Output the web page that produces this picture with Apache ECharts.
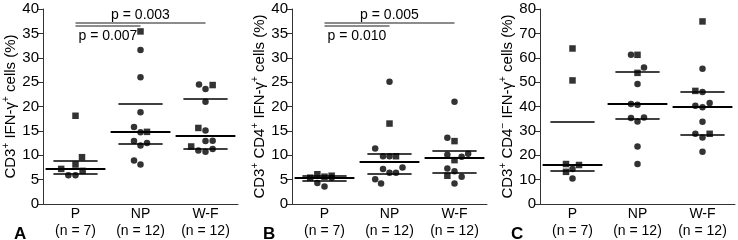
<!DOCTYPE html>
<html>
<head>
<meta charset="utf-8">
<script src="https://cdn.jsdelivr.net/npm/echarts@6/dist/echarts.min.js"></script>
<style>
  html, body { margin: 0; padding: 0; background: #fff; }
  #chart { width: 738px; height: 240px; }
</style>
</head>
<body>
<div id="chart"></div>
<script>
// groups on the x axis (x = 1, 2, 3 on the hidden value axis, points jittered around them)
const categories = ['P', 'NP', 'W-F']
const groupSizes = ['(n = 7)', '(n = 12)', '(n = 12)']

// panel A: CD3+ IFN-g+ cells (%)
const aSquares = [[1.0, 18.1], [1.1, 9.6], [1.0, 8.1], [0.78, 7.2], [1.11, 6.8],
  [2.0, 35.4], [2.1, 14.8],
  [3.11, 24.4], [2.89, 15.6], [2.78, 11.8]]
const aCircles = [[0.89, 5.9], [1.0, 5.9],
  [2.0, 31.6], [2.0, 26.0], [2.0, 18.8], [1.9, 15.8], [2.0, 14.7], [1.9, 12.9], [2.0, 12.0], [2.1, 12.5], [1.9, 8.9], [2.0, 8.1],
  [2.9, 24.5], [3.0, 23.6], [3.0, 21.0], [3.0, 15.1], [2.89, 11.0], [3.0, 10.7], [3.11, 11.3], [3.0, 12.9], [3.11, 13.0]]
const aLow = [6.2, 12.4, 11.4]
const aMedian = [7.2, 14.8, 14.0]
const aHigh = [8.8, 20.6, 21.6]
const aPValues = ['p = 0.003', 'p = 0.007']

// panel B: CD3+ CD4+ IFN-g+ cells (%)
const bSquares = [[0.78, 5.4], [0.89, 6.1], [1.0, 5.6], [1.11, 5.8],
  [2.0, 16.5], [2.1, 9.8],
  [3.0, 12.9], [3.0, 9.0], [2.89, 5.8]]
const bCircles = [[0.89, 4.3], [1.0, 3.6], [1.11, 5.4],
  [2.0, 25.1], [1.78, 11.4], [1.9, 9.8], [2.0, 9.8], [2.2, 7.5], [1.9, 7.2], [1.78, 5.1], [2.0, 6.4], [2.1, 6.4], [1.87, 4.2],
  [3.0, 21.0], [2.89, 13.6], [2.89, 10.1], [3.11, 9.7], [3.21, 10.3], [2.89, 7.3], [3.0, 6.7], [3.11, 5.6], [3.0, 4.2]]
const bLow = [4.8, 6.3, 6.4]
const bMedian = [5.4, 8.6, 9.5]
const bHigh = [5.7, 10.3, 11.0]
const bPValues = ['p = 0.005', 'p = 0.010']

// panel C: CD3+ CD4- IFN-g+ cells (%)
const cSquares = [[1.0, 63.8], [1.0, 50.7], [0.9, 16.4], [1.1, 16.0], [0.9, 13.2],
  [2.0, 61.2], [2.0, 53.8],
  [3.0, 74.9], [2.89, 46.4], [3.11, 28.8]]
const cCircles = [[1.0, 14.4], [1.0, 10.5],
  [1.9, 61.2], [2.1, 56.0], [2.0, 49.2], [1.9, 41.0], [2.0, 40.7], [1.9, 35.3], [2.1, 35.5], [2.0, 33.8], [2.0, 23.6], [2.0, 16.4],
  [3.0, 55.5], [3.0, 46.0], [3.11, 41.4], [2.89, 40.3], [3.0, 39.7], [3.0, 33.7], [2.89, 28.8], [3.0, 27.3], [3.0, 21.4]]
const cLow = [13.7, 34.9, 28.6]
const cMedian = [16.0, 41.0, 40.1]
const cHigh = [33.7, 54.4, 46.0]

const panels = [
  { tag: 'A', left: 43, max: 40, step: 5,
    name: '{t|CD3}{s|+}{t| IFN-γ}{s|+}{t| cells (%)}',
    squares: aSquares, circles: aCircles, low: aLow, median: aMedian, high: aHigh,
    pvals: aPValues, sigY: [37.2, 36.5] },
  { tag: 'B', left: 292, max: 40, step: 5,
    name: '{t|CD3}{s|+}{t| CD4}{s|+}{t| IFN-γ}{s|+}{t| cells (%)}',
    squares: bSquares, circles: bCircles, low: bLow, median: bMedian, high: bHigh,
    pvals: bPValues, sigY: [37.2, 36.5] },
  { tag: 'C', left: 540, max: 80, step: 10,
    name: '{t|CD3}{s|+}{t| CD4}{s|−}{t| IFN-γ}{s|+}{t| cells (%)}',
    squares: cSquares, circles: cCircles, low: cLow, median: cMedian, high: cHigh,
    pvals: null, sigY: null }
]

const ink = '#000'
const font = 'Liberation Sans, Arial, sans-serif'

const grid = []
const xAxis = []
const yAxis = []
const series = []
const title = []

panels.forEach((p, i) => {
  grid.push({ left: p.left, top: 9, width: 195, height: 195 })
  title.push({ text: p.tag, left: p.left - 34, top: 221,
    textStyle: { fontSize: 17, fontWeight: 'bold', color: ink, fontFamily: font } })
  // category axis only for labels and ticks
  xAxis.push({
    type: 'category', gridIndex: i, data: categories, boundaryGap: true,
    axisLine: { lineStyle: { color: '#333', width: 1 } },
    axisTick: { inside: true, length: 3, lineStyle: { color: '#333' } },
    axisLabel: {
      margin: 2, color: ink, fontFamily: font, fontSize: 14, lineHeight: 17,
      formatter: (v, k) => v + '\n' + groupSizes[k]
    }
  })
  // hidden value axis that carries the points
  xAxis.push({ type: 'value', gridIndex: i, min: 0.5, max: 3.5, show: false })
  yAxis.push({
    type: 'value', gridIndex: i, min: 0, max: p.max, interval: p.step,
    splitLine: { show: false },
    axisLine: { show: true, lineStyle: { color: '#333', width: 1 } },
    axisTick: { show: true, length: 5, lineStyle: { color: '#333' } },
    axisLabel: { margin: 4, color: ink, fontFamily: font, fontSize: 15 },
    name: p.name, nameLocation: 'middle', nameRotate: 90, nameGap: 18,
    nameTextStyle: {
      color: ink, fontFamily: font,
      rich: {
        t: { fontSize: 15, fontFamily: font, color: ink, lineHeight: 19 },
        s: { fontSize: 10, fontFamily: font, color: ink, lineHeight: 12, verticalAlign: 'top' }
      }
    }
  })

  const marks = []
  p.median.forEach((m, g) => {
    marks.push([{ coord: [g + 1 - 0.46, m], lineStyle: { width: 2 } }, { coord: [g + 1 + 0.46, m] }])
    marks.push([{ coord: [g + 1 - 0.34, p.low[g]], lineStyle: { width: 1.5 } }, { coord: [g + 1 + 0.34, p.low[g]] }])
    marks.push([{ coord: [g + 1 - 0.34, p.high[g]], lineStyle: { width: 1.5 } }, { coord: [g + 1 + 0.34, p.high[g]] }])
  })
  const xi = i * 2 + 1
  series.push({
    type: 'scatter', xAxisIndex: xi, yAxisIndex: i, data: p.circles,
    symbol: 'circle', symbolSize: 6.5, itemStyle: { color: ink }, z: 3,
    markLine: {
      silent: true, symbol: ['none', 'none'], label: { show: false },
      lineStyle: { color: ink, type: 'solid' }, data: marks, z: 2
    }
  })
  const sig = []
  if (p.pvals) {
    sig.push([{ coord: [1, p.sigY[0]], label: { show: true, formatter: p.pvals[0], position: 'insideMiddleTop', distance: 1 } },
      { coord: [3, p.sigY[0]] }])
    sig.push([{ coord: [1, p.sigY[1]], label: { show: true, formatter: p.pvals[1], position: 'insideStartBottom', distance: 3 } },
      { coord: [2, p.sigY[1]] }])
  }
  series.push({
    type: 'scatter', xAxisIndex: xi, yAxisIndex: i, data: p.squares,
    symbol: 'rect', symbolSize: 6.5, itemStyle: { color: ink }, z: 4,
    markLine: {
      silent: true, symbol: ['none', 'none'],
      label: { color: ink, fontFamily: font, fontSize: 14 },
      lineStyle: { color: '#666', width: 1.5, type: 'solid' }, data: sig
    }
  })
})

const chart = echarts.init(document.getElementById('chart'))
chart.setOption({
  animation: false,
  backgroundColor: '#fff',
  title, grid, xAxis, yAxis, series
})
</script>
</body>
</html>
